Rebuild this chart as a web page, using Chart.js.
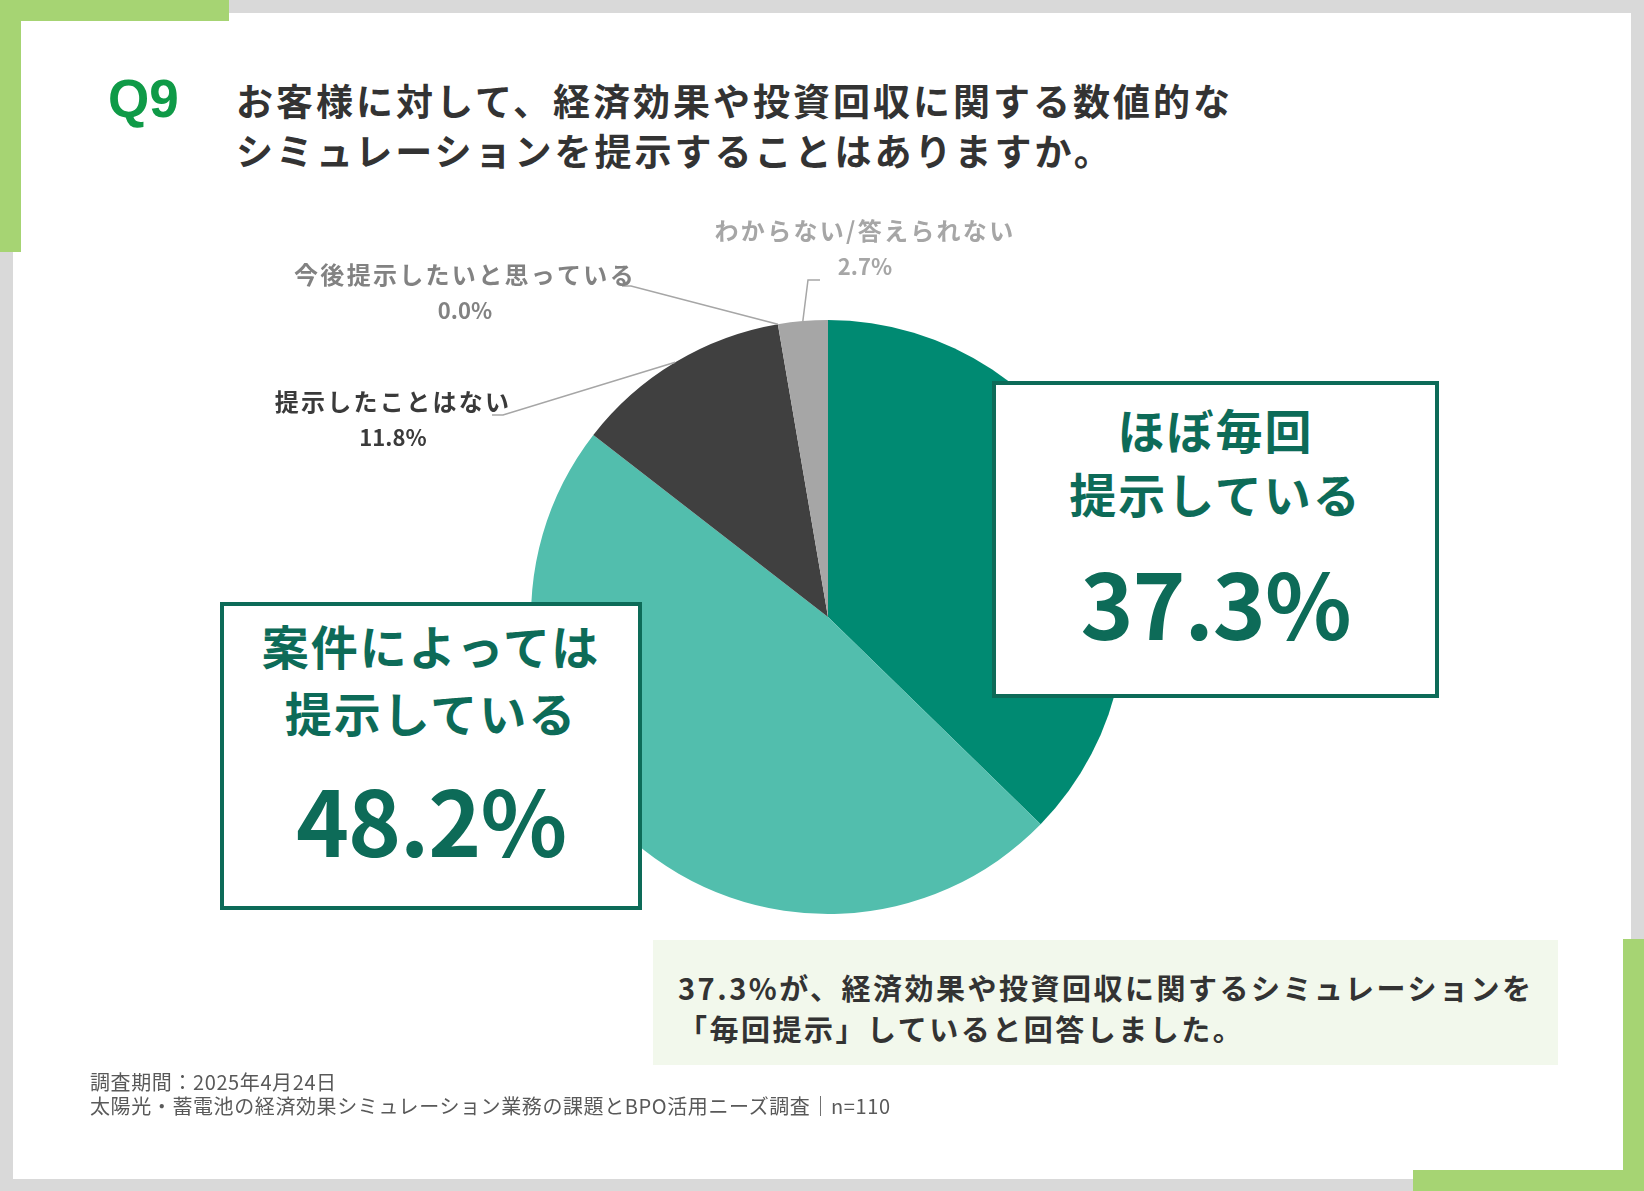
<!DOCTYPE html>
<html lang="ja">
<head>
<meta charset="utf-8">
<script src="https://cdn.jsdelivr.net/npm/chart.js@4/dist/chart.umd.min.js"></script>
<style>
  html, body { margin: 0; padding: 0; }
  body {
    width: 1644px; height: 1191px; position: relative; overflow: hidden;
    background: #d9d9d9;
    font-family: "Noto Sans CJK JP", "Noto Sans", sans-serif;
  }
  .abs { position: absolute; }
  .panel { left: 13px; top: 13px; width: 1618px; height: 1166px; background: #fff; }
  .acc { background: #a6d473; }
  .q { left: 108px; top: 69px; font: bold 53px "Liberation Sans", Arial, sans-serif; color: #0f9a47; line-height: 60px; }
  .title { left: 236px; font-weight: bold; font-size: 37px; letter-spacing: 3px; color: #333; line-height: 44px; white-space: nowrap; }
  #wrap { left: 0; top: 0; width: 1644px; height: 1191px; }
  .box { background: #fff; border: 4px solid #0d6b58; box-sizing: border-box; }
  .bl { width: 100%; text-align: center; font-weight: bold; color: #0d6b58; white-space: nowrap; left: 0; }
  .big { font-size: 90px; line-height: 100px; letter-spacing: -1px; }
  .mid { font-size: 47px; line-height: 56px; letter-spacing: 2px; }
  .note { left: 653px; top: 940px; width: 905px; height: 125px; background: #f2f8ec; }
  .nl { left: 25px; font-weight: bold; font-size: 29px; letter-spacing: 2.5px; color: #333; line-height: 36px; white-space: nowrap; }
  .foot { left: 90px; font-size: 20px; color: #595959; line-height: 24px; white-space: nowrap; letter-spacing: 0.6px; }
</style>
</head>
<body>
<div class="abs panel"></div>
<div class="abs acc" style="left:0;top:0;width:229px;height:21px"></div>
<div class="abs acc" style="left:0;top:0;width:21px;height:252px"></div>
<div class="abs acc" style="left:1623px;top:939px;width:21px;height:252px"></div>
<div class="abs acc" style="left:1413px;top:1170px;width:231px;height:21px"></div>

<div class="abs q">Q9</div>
<div class="abs title" style="top:78px">お客様に対して、経済効果や投資回収に関する数値的な</div>
<div class="abs title" style="top:128px">シミュレーションを提示することはありますか。</div>

<div class="abs" id="wrap"><canvas id="pie"></canvas></div>

<div class="abs box" style="left:992px;top:381px;width:447px;height:317px">
  <div class="abs bl mid" style="top:16px">ほぼ毎回</div>
  <div class="abs bl mid" style="top:80px">提示している</div>
  <div class="abs bl big" style="top:166px">37.3%</div>
</div>
<div class="abs box" style="left:220px;top:602px;width:422px;height:308px">
  <div class="abs bl mid" style="top:11px">案件によっては</div>
  <div class="abs bl mid" style="top:78px">提示している</div>
  <div class="abs bl big" style="top:162px">48.2%</div>
</div>

<div class="abs note">
  <div class="abs nl" style="top:29px">37.3%が、経済効果や投資回収に関するシミュレーションを</div>
  <div class="abs nl" style="top:70px">「毎回提示」していると回答しました。</div>
</div>

<div class="abs foot" style="top:1070px">調査期間：2025年4月24日</div>
<div class="abs foot" style="top:1094px">太陽光・蓄電池の経済効果シミュレーション業務の課題とBPO活用ニーズ調査｜n=110</div>

<script>
// 回答データ
const categories = ["ほぼ毎回提示している", "案件によっては提示している", "提示したことはない", "今後提示したいと思っている", "わからない/答えられない"];
const shares = [37.3, 48.2, 11.8, 0.0, 2.7];
const sliceColors = ["#008a72", "#52bead", "#404040", "#7f7f7f", "#a6a6a6"];

// 外側ラベル（小さい項目だけ引き出し線つき）
const outsideLabels = [
  { i: 2, text: "提示したことはない", color: "#3a3a3a", at: [393, 402], elbow: [503, 415], end: [492, 415] },
  { i: 3, text: "今後提示したいと思っている", color: "#828282", at: [465, 275], elbow: [631, 286], end: [622, 286] },
  { i: 4, text: "わからない/答えられない", color: "#a6a6a6", at: [865, 231], elbow: [808, 280], end: [820, 280] }
];

const leaderPlugin = {
  id: "leaders",
  afterDatasetsDraw(chart) {
    const ctx = chart.ctx;
    const arcs = chart.getDatasetMeta(0).data;
    ctx.save();
    outsideLabels.forEach(l => {
      const a = arcs[l.i].getProps(["x", "y", "startAngle", "endAngle", "outerRadius"], true);
      const ang = (a.startAngle + a.endAngle) / 2;
      const px = a.x + Math.cos(ang) * a.outerRadius;
      const py = a.y + Math.sin(ang) * a.outerRadius;
      ctx.strokeStyle = "#a6a6a6";
      ctx.lineWidth = 1.5;
      ctx.beginPath();
      ctx.moveTo(px, py);
      ctx.lineTo(l.elbow[0], l.elbow[1]);
      ctx.lineTo(l.end[0], l.end[1]);
      ctx.stroke();

      ctx.fillStyle = l.color;
      ctx.textAlign = "center";
      ctx.textBaseline = "middle";
      ctx.letterSpacing = "2.3px";
      ctx.font = 'bold 24px "Noto Sans CJK JP"';
      ctx.fillText(l.text, l.at[0], l.at[1]);
      ctx.letterSpacing = "0px";
      ctx.font = 'bold 22px "Noto Sans CJK JP"';
      ctx.fillText(shares[l.i].toFixed(1) + "%", l.at[0], l.at[1] + 36);
    });
    ctx.restore();
  }
};

new Chart(document.getElementById("pie"), {
  type: "pie",
  data: {
    labels: categories,
    datasets: [{
      data: shares,
      backgroundColor: sliceColors,
      borderWidth: 0
    }]
  },
  options: {
    responsive: true,
    maintainAspectRatio: false,
    animation: false,
    events: [],
    layout: { padding: { left: 531, right: 519, top: 320, bottom: 277 } },
    plugins: {
      legend: { display: false },
      tooltip: { enabled: false }
    }
  },
  plugins: [leaderPlugin]
});
</script>
</body>
</html>
